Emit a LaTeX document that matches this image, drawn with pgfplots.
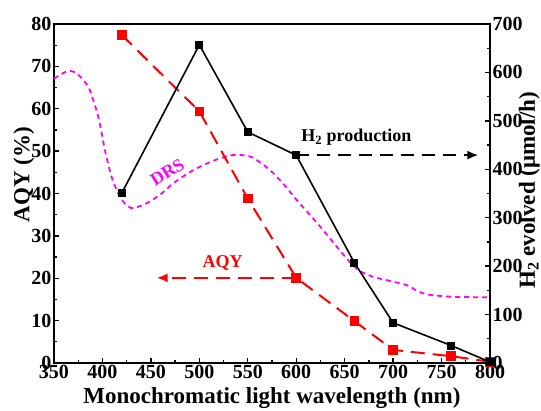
\documentclass[border=0pt]{standalone}
\usepackage{fontspec}
\setmainfont{Liberation Serif}
\usepackage{pgfplots}
\pgfplotsset{compat=1.18}
\usetikzlibrary{arrows.meta}
\definecolor{mag}{RGB}{255,0,255}
\newcommand{\tb}[1]{\textbf{#1}}
\begin{document}
\begin{tikzpicture}
\pgfplotsset{
 common/.style={
  scale only axis, width=436pt, height=339pt,
  at={(0,0)}, anchor=south west,
  xmin=350, xmax=800,
  tick label style={font=\bfseries\fontsize{20}{20}\selectfont},
  major tick length=5pt, minor tick length=3pt,
  every tick/.style={line width=1.3pt, black},
  every minor tick/.style={line width=1.3pt, black},
  axis line style={line width=1.6pt},
  tick align=inside,
  label style={font=\bfseries\fontsize{23}{25}\selectfont},
  clip=false,
 }
}
\begin{axis}[common,
  ymin=0, ymax=80,
  xtick={350,400,...,800}, minor x tick num=1,
  xticklabels={\tb{350},\tb{400},\tb{450},\tb{500},\tb{550},\tb{600},\tb{650},\tb{700},\tb{750},\tb{800}},
  ytick={0,10,...,80}, minor y tick num=1,
  yticklabels={\tb{0},\tb{10},\tb{20},\tb{30},\tb{40},\tb{50},\tb{60},\tb{70},\tb{80}},
  xtick pos=bottom, ytick pos=left,
  yticklabel style={xshift=1pt},
  xticklabel style={yshift=1pt},
  xlabel={Monochromatic light wavelength (nm)},
  ylabel={AQY (\%)},
  xlabel style={at={(axis description cs:0.5,-0.103)}, anchor=center},
  ylabel style={at={(axis description cs:-0.069,0.555)}, anchor=center},
]
% DRS spectrum
\addplot[mag, line width=1.8pt, dash pattern=on 5pt off 4pt, smooth, no marks] coordinates {
(350,67.1) (363,68.8) (372,68.6) (382,66.3) (387,64.4) (395.7,58.1) (402.6,50.2)
(409.5,43.9) (418,39.2) (426.7,36.9) (433,36.6) (445.6,37.7) (460,39.8) (473,42.4)
(490,45.0) (504,46.7) (520,48.2) (532,49.0) (542,49.1) (555,48.5) (573,45.5)
(587,42.2) (600,38.6) (614,35.0) (628,31.3) (642,27.4) (655,23.9) (665,21.8)
(680,20.3) (700,19.2) (715,18.3) (725,17.0) (735,16.2) (750,15.8) (765,15.6) (800,15.5)
};
% AQY
\addplot[red, line width=2pt, dash pattern=on 14pt off 8pt, mark=square*, mark size=3.8pt, mark options={solid}] coordinates {
(420,77.4) (500,59.4) (550,38.8) (600,20.1) (660,9.9) (700,3.1) (760,1.6) (800,0.3)
};
\draw[red, line width=2pt, dash pattern=on 14pt off 8pt, -{Latex[length=11pt,width=9pt]}] (axis cs:600,20.1) -- (axis cs:456,20.1);
\draw[black, line width=2pt, dash pattern=on 13pt off 8pt, -{Latex[length=11pt,width=9pt]}] (axis cs:600,49.06) -- (axis cs:788,49.06);
\node[red, font=\bfseries\fontsize{18}{18}\selectfont] at (axis cs:524,23.6) {AQY};
\node[mag, rotate=32, font=\bfseries\fontsize{18}{18}\selectfont] at (axis cs:467,45.0) {DRS};
\node[black, font=\bfseries\fontsize{18}{18}\selectfont] at (axis cs:662,53.2) {H\textsubscript{2} production};
\end{axis}
\begin{axis}[common,
  ymin=0, ymax=700,
  axis x line=none, axis y line*=right,
  ytick={0,100,...,700}, minor y tick num=1,
  yticklabels={\tb{0},\tb{100},\tb{200},\tb{300},\tb{400},\tb{500},\tb{600},\tb{700}},
  yticklabel style={xshift=-1pt},
  ylabel={H\textsubscript{2} evolved (μmol/h)},
  ylabel style={at={(axis description cs:1.09,0.51)}, anchor=center},
]
\addplot[black, line width=1.6pt, mark=square*, mark size=3.2pt] coordinates {
(420,351) (500,657) (550,477) (600,429) (660,207) (700,83) (760,36) (800,2)
};
\end{axis}
\pgfresetboundingbox
\useasboundingbox (-54pt,-47pt) rectangle (487pt,363pt);
\end{tikzpicture}
\end{document}
